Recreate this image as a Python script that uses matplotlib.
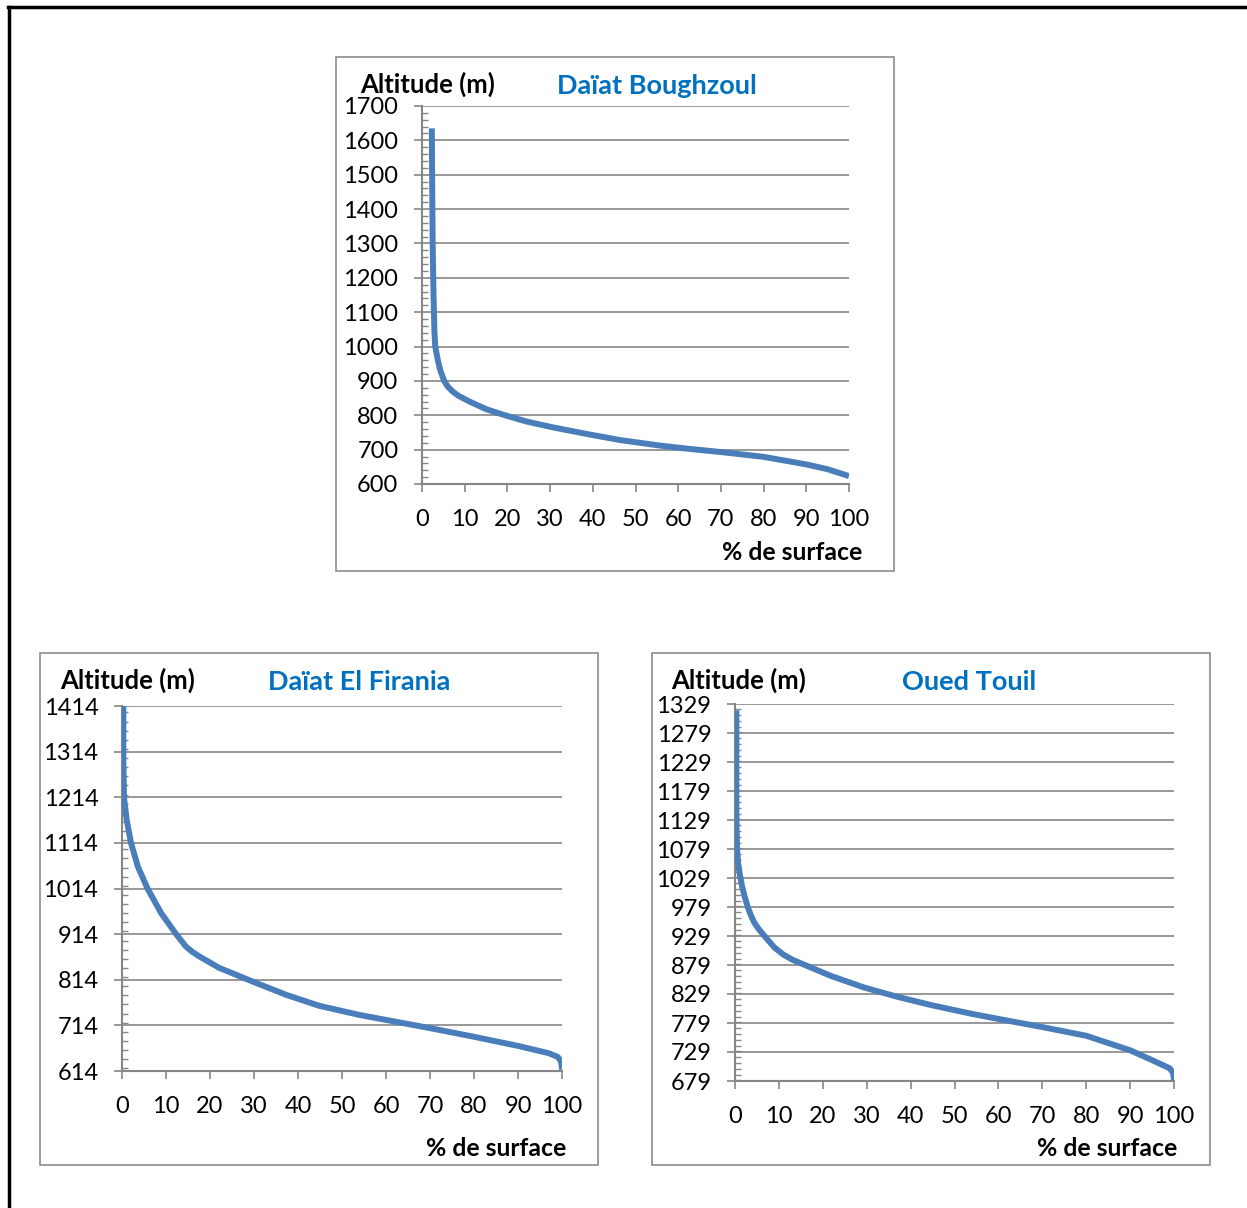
import matplotlib.pyplot as plt
from matplotlib.patches import Rectangle
from matplotlib.lines import Line2D
from matplotlib.ticker import MultipleLocator

plt.rcParams['font.family'] = ['Lato', 'DejaVu Sans']

W, H = 1247, 1208

# Daïat Boughzoul
bough_x = [2.3, 2.4, 2.5, 2.7, 2.8, 2.9, 3.1, 3.7, 4.3, 5.2, 6.0, 7.2, 8.5, 11.1, 15, 18.9, 24.4,
           30.6, 38.4, 46.3, 55.6, 62, 70, 80, 90, 95, 100]
bough_y = [1635, 1450, 1300, 1150, 1100, 1048, 1000, 961, 930, 900, 884, 869, 857, 840, 818, 802,
           782, 765, 746, 728, 712, 703, 693, 679, 657, 643, 623]

# Daïat El Firania
fir_x = [0.3, 0.3, 0.45, 1.06, 2.05, 3.6, 5.8, 8.9, 12.3, 14.5, 16, 17.6, 22.1, 29.7, 37.3, 44.8,
         53.9, 60, 70, 80, 90, 97, 99, 99.8, 100]
fir_y = [1414, 1300, 1214, 1164, 1114, 1062, 1014, 960, 914, 887, 875, 865, 840, 810, 781, 757,
         737, 726, 708, 689, 669, 653, 645, 635, 617]

# Oued Touil
touil_x = [0.3, 0.3, 0.45, 0.7, 1.1, 1.6, 2.2, 2.9, 3.6, 4.4, 5.5, 6.7, 9.0, 11, 13.1, 17.5, 21.9,
           29.5, 37.1, 44.6, 53.8, 60, 70, 80, 90, 95, 99, 99.8, 100]
touil_y = [1318, 1150, 1079, 1055, 1035, 1015, 997, 979, 965, 952, 940, 929, 909, 897, 888, 874, 860,
           840, 824, 810, 795, 786, 772, 757, 732, 715, 701, 693, 681]

charts = [
    dict(name="Daïat Boughzoul", x=bough_x, y=bough_y, ylim=(600, 1700), major=100, minor=20,
         ax_px=(422, 849, 106, 484), box=(336, 57, 894, 571),
         alt=(360, 84), title=(657, 86), xlab=(862, 552)),
    dict(name="Daïat El Firania", x=fir_x, y=fir_y, ylim=(614, 1414), major=100, minor=20,
         ax_px=(122, 562, 706, 1071), box=(40, 653, 598, 1165),
         alt=(60, 680), title=(359, 682), xlab=(566, 1148)),
    dict(name="Oued Touil", x=touil_x, y=touil_y, ylim=(679, 1329), major=50, minor=10,
         ax_px=(735, 1174, 704, 1081), box=(652, 653, 1210, 1165),
         alt=(671, 680), title=(969, 682), xlab=(1177, 1148)),
]

grey = '#868686'
fig = plt.figure(figsize=(W / 100, H / 100), dpi=100)

# outer black frame (top and left)
fig.add_artist(Line2D([8 / W, 1], [1 - 7 / H, 1 - 7 / H], color='black', lw=2.5))
fig.add_artist(Line2D([9 / W, 9 / W], [1 - 7 / H, 0], color='black', lw=2.5))

for c in charts:
    bx0, by0, bx1, by1 = c['box']
    fig.add_artist(Rectangle((bx0 / W, 1 - by1 / H), (bx1 - bx0) / W, (by1 - by0) / H,
                             fill=False, edgecolor='#8c8c8c', lw=1.2, transform=fig.transFigure))
    l, r, t, b = c['ax_px']
    ax = fig.add_axes([l / W, 1 - b / H, (r - l) / W, (b - t) / H])
    ax.plot(c['x'], c['y'], color='#4a7ebb', lw=4.3, solid_capstyle='butt',
            solid_joinstyle='round', zorder=3)
    ax.set_xlim(0, 100)
    ax.set_ylim(*c['ylim'])
    ax.xaxis.set_major_locator(MultipleLocator(10))
    ax.set_yticks(range(c['ylim'][0], c['ylim'][1] + 1, c['major']))
    ax.yaxis.set_minor_locator(MultipleLocator(c['minor']))
    ax.grid(axis='y', color=grey, lw=1.2)
    for s in ['top', 'right']:
        ax.spines[s].set_visible(False)
    for s in ['left', 'bottom']:
        ax.spines[s].set_color(grey)
        ax.spines[s].set_linewidth(1.5)
    ax.tick_params(axis='y', which='major', direction='out', length=6, width=1.2,
                   color=grey, labelsize=17, pad=11)
    ax.tick_params(axis='y', which='minor', direction='in', length=4, width=1, color=grey)
    ax.tick_params(axis='x', which='major', direction='out', length=6, width=1.2,
                   color=grey, labelsize=17, pad=12)
    ax.set_axisbelow(True)
    ax.set_facecolor('none')

    fig.text(c['alt'][0] / W, 1 - c['alt'][1] / H, "Altitude (m)", fontsize=18.5,
             fontweight='bold', ha='left', va='center')
    fig.text(c['title'][0] / W, 1 - c['title'][1] / H, c['name'], fontsize=19.5,
             fontweight='bold', color='#0070c0', ha='center', va='center')
    fig.text(c['xlab'][0] / W, 1 - c['xlab'][1] / H, "% de surface", fontsize=17.8,
             fontweight='bold', ha='right', va='center')

fig.savefig("out.png", dpi=100)
